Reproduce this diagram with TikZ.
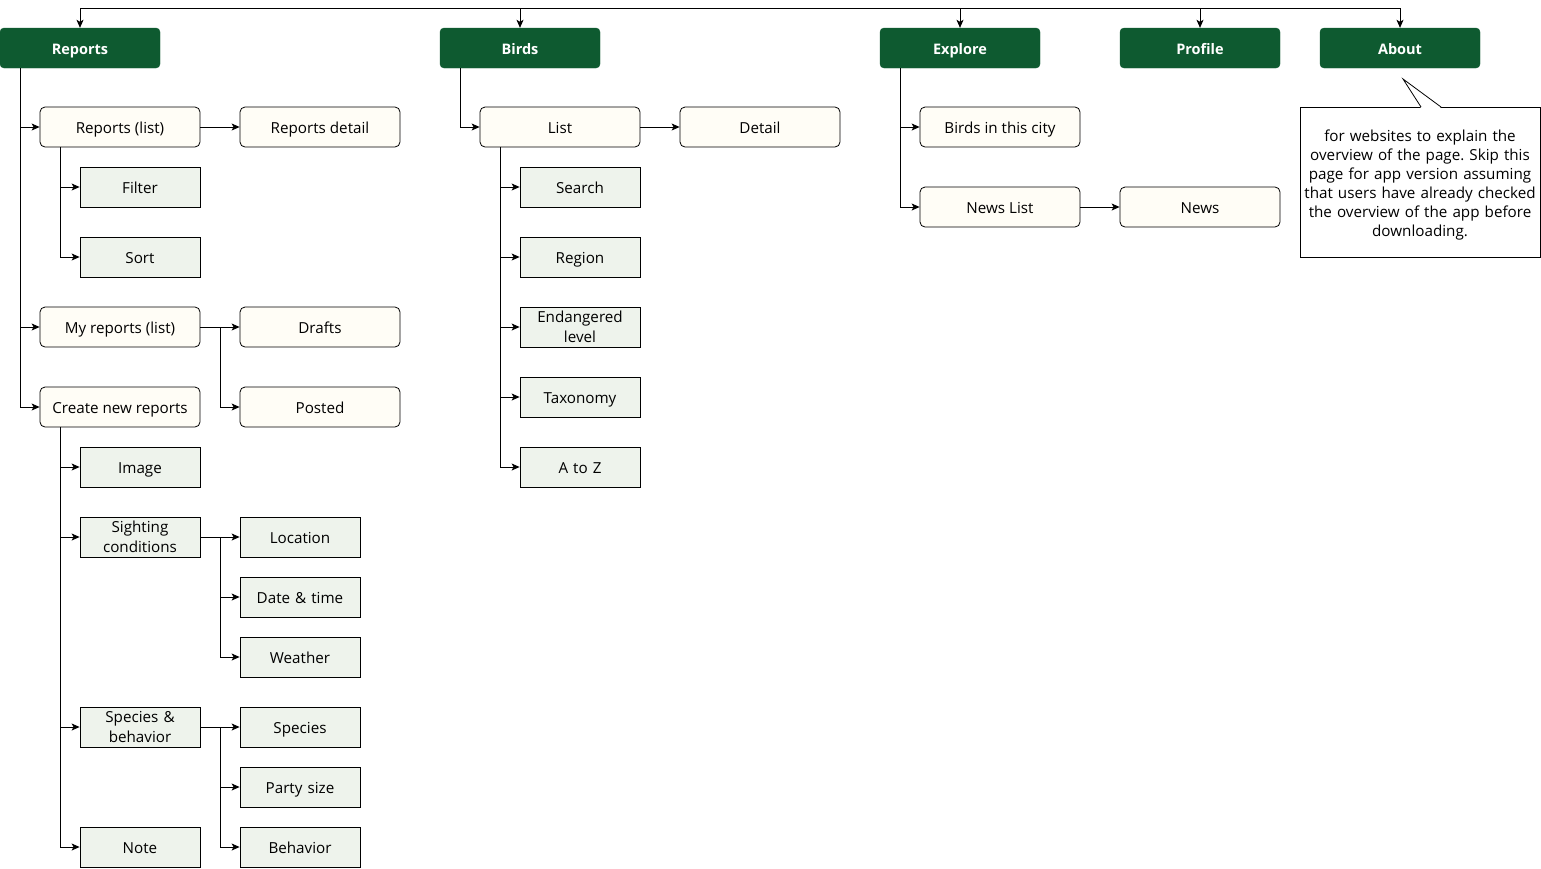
\documentclass[tikz,border=0pt]{standalone}
\usepackage{fontspec}
\setmainfont{Open Sans}
\usetikzlibrary{arrows.meta,calc}
\definecolor{dkgreen}{HTML}{0E5A30}
\definecolor{cream}{HTML}{FFFDF6}
\definecolor{lgreen}{HTML}{EEF3EC}
\frenchspacing
\begin{document}
\begin{tikzpicture}[x=1pt,y=-1pt,
  font=\fontsize{15.2}{19}\selectfont,
  topbox/.style={draw=dkgreen,fill=dkgreen,rounded corners=4pt,minimum width=160pt,minimum height=40pt,inner sep=0pt,text height=13pt,text depth=1pt,text=white,font=\fontsize{14.5}{16}\selectfont\bfseries},
  pagebox/.style={draw=black,fill=cream,rounded corners=5pt,minimum width=160pt,minimum height=40pt,inner sep=0pt,text height=13pt,text depth=1pt,line width=0.8pt},
  subtwo/.style={draw=black,fill=lgreen,minimum width=120pt,minimum height=40pt,inner sep=0pt,text width=118pt,align=center,line width=0.8pt,font=\fontsize{15.2}{19.5}\selectfont},
  subbox/.style={subtwo,text height=13pt,text depth=1pt},
  conn/.style={draw=black,line width=0.8pt},
  arr/.style={conn,-{Stealth[length=8pt,width=7pt,inset=2pt]}},
  notebox/.style={draw=black,fill=white,minimum width=240pt,minimum height=150pt,inner sep=0pt,line width=0.8pt},
  notetext/.style={inner sep=0pt,text width=240pt,align=center,font=\fontsize{15.2}{19}\selectfont}
]
\useasboundingbox (0,0) rectangle (1541,868);

% top level
\node[topbox] (reports) at (80,48) {Reports};
\node[topbox] (birds) at (520,48) {Birds};
\node[topbox] (explore) at (960,48) {Explore};
\node[topbox] (profile) at (1200,48) {Profile};
\node[topbox] (about) at (1400,48) {About};

\coordinate (tl) at (80,8);
\coordinate (tr) at (1400,8);
\draw[conn] (tl) -- (tr);
\draw[arr] (tl) -- (reports.north);
\draw[arr] (birds.north |- tl) -- (birds.north);
\draw[arr] (explore.north |- tl) -- (explore.north);
\draw[arr] (profile.north |- tl) -- (profile.north);
\draw[arr] (about.north |- tl) -- (about.north);

% Reports branch
\node[pagebox] (rlist) at (120,127) {Reports (list)};
\node[pagebox] (rdetail) at (320,127) {Reports detail};
\node[subbox] (filter) at (140,187) {Filter};
\node[subbox] (sort) at (140,257) {Sort};
\node[pagebox] (mylist) at (120,327) {My reports (list)};
\node[pagebox] (drafts) at (320,327) {Drafts};
\node[pagebox] (posted) at (320,407) {Posted};
\node[pagebox] (create) at (120,407) {Create new reports};
\node[subbox] (image) at (140,467) {Image};
\node[subtwo] (sight) at (140,537) {Sighting\\conditions};
\node[subbox] (loc) at (300,537) {Location};
\node[subbox] (date) at (300,597) {Date \& time};
\node[subbox] (weather) at (300,657) {Weather};
\node[subtwo] (spb) at (140,727) {Species \&\\behavior};
\node[subbox] (species) at (300,727) {Species};
\node[subbox] (party) at (300,787) {Party size};
\node[subbox] (behavior) at (300,847) {Behavior};
\node[subbox] (note) at (140,847) {Note};

\draw[arr] ([xshift=-60pt]reports.south) |- (rlist.west);
\draw[arr] ([xshift=-60pt]reports.south) |- (mylist.west);
\draw[arr] ([xshift=-60pt]reports.south) |- (create.west);
\draw[arr] (rlist) -- (rdetail);
\draw[arr] ([xshift=-60pt]rlist.south) |- (filter.west);
\draw[arr] ([xshift=-60pt]rlist.south) |- (sort.west);
\draw[arr] (mylist) -- (drafts);
\draw[arr] (mylist.east) -- ++(20,0) |- (posted.west);
\draw[arr] ([xshift=-60pt]create.south) |- (image.west);
\draw[arr] ([xshift=-60pt]create.south) |- (sight.west);
\draw[arr] ([xshift=-60pt]create.south) |- (spb.west);
\draw[arr] ([xshift=-60pt]create.south) |- (note.west);
\draw[arr] (sight) -- (loc);
\draw[arr] (sight.east) -- ++(20,0) |- (date.west);
\draw[arr] (sight.east) -- ++(20,0) |- (weather.west);
\draw[arr] (spb) -- (species);
\draw[arr] (spb.east) -- ++(20,0) |- (party.west);
\draw[arr] (spb.east) -- ++(20,0) |- (behavior.west);

% Birds branch
\node[pagebox] (list) at (560,127) {List};
\node[pagebox] (detail) at (760,127) {Detail};
\node[subbox] (search) at (580,187) {Search};
\node[subbox] (region) at (580,257) {Region};
\node[subtwo] (endang) at (580,327) {Endangered\\level};
\node[subbox] (taxo) at (580,397) {Taxonomy};
\node[subbox] (atoz) at (580,467) {A to Z};

\draw[arr] ([xshift=-60pt]birds.south) |- (list.west);
\draw[arr] (list) -- (detail);
\foreach \n in {search,region,endang,taxo,atoz}
  \draw[arr] ([xshift=-60pt]list.south) |- (\n.west);

% Explore branch
\node[pagebox] (city) at (1000,127) {Birds in this city};
\node[pagebox] (newslist) at (1000,207) {News List};
\node[pagebox] (news) at (1200,207) {News};
\draw[arr] ([xshift=-60pt]explore.south) |- (city.west);
\draw[arr] ([xshift=-60pt]explore.south) |- (newslist.west);
\draw[arr] (newslist) -- (news);

% About note
\node[notebox] (aboutnote) at (1420,182) {};
\node[notetext] (abouttext) at (1420,185) {for websites to explain the\\overview of the page. Skip this\\page for app version assuming\\that users have already checked\\the overview of the app before\\downloading.};
\coordinate (ctip) at (1403,79);
\coordinate (cl) at (1421,107);
\coordinate (cr) at (1441,107);
\fill[white] ([yshift=-1pt]cl) -- (ctip) -- ([yshift=-1pt]cr) -- cycle;
\draw[conn] (cl) -- (ctip) -- (cr);
\end{tikzpicture}
\end{document}
